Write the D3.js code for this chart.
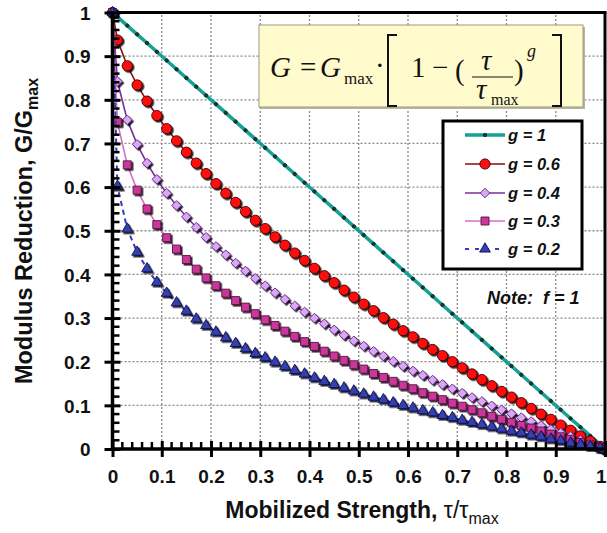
<!DOCTYPE html>
<html><head><meta charset="utf-8">
<script src="https://cdn.jsdelivr.net/npm/d3@7"></script>
<style>
html,body{margin:0;padding:0;background:#fff;}
svg{display:block;}
</style></head>
<body>
<svg id="chart" width="607" height="533"></svg>
<script>
// ---- data ----
const xValues = [0,0.01,0.03,0.05,0.07,0.09,0.11,0.13,0.15,0.17,0.19,0.21,0.23,0.25,0.27,0.29,0.31,0.33,0.35,0.37,0.39,0.41,0.43,0.45,0.47,0.49,0.51,0.53,0.55,0.57,0.59,0.61,0.63,0.65,0.67,0.69,0.71,0.73,0.75,0.77,0.79,0.81,0.83,0.85,0.87,0.89,0.91,0.93,0.95,0.97,0.99,1];
const g1  = [1,0.99,0.97,0.95,0.93,0.91,0.89,0.87,0.85,0.83,0.81,0.79,0.77,0.75,0.73,0.71,0.69,0.67,0.65,0.63,0.61,0.59,0.57,0.55,0.53,0.51,0.49,0.47,0.45,0.43,0.41,0.39,0.37,0.35,0.33,0.31,0.29,0.27,0.25,0.23,0.21,0.19,0.17,0.15,0.13,0.11,0.09,0.07,0.05,0.03,0.01,0];
const g06 = [1,0.937,0.878,0.834,0.797,0.764,0.734,0.706,0.680,0.655,0.631,0.608,0.586,0.565,0.544,0.524,0.505,0.486,0.467,0.449,0.432,0.414,0.397,0.381,0.364,0.348,0.332,0.317,0.301,0.286,0.271,0.257,0.242,0.228,0.214,0.200,0.186,0.172,0.159,0.145,0.132,0.119,0.106,0.093,0.080,0.068,0.055,0.043,0.030,0.018,0.006,0];
const g04 = [1,0.842,0.754,0.698,0.655,0.618,0.586,0.558,0.532,0.508,0.485,0.464,0.445,0.426,0.408,0.391,0.374,0.358,0.343,0.328,0.314,0.300,0.287,0.273,0.261,0.248,0.236,0.224,0.213,0.201,0.190,0.179,0.169,0.158,0.148,0.138,0.128,0.118,0.109,0.099,0.090,0.081,0.072,0.063,0.054,0.045,0.037,0.029,0.020,0.012,0.004,0];
const g03 = [1,0.749,0.651,0.593,0.550,0.514,0.484,0.458,0.434,0.412,0.392,0.374,0.357,0.340,0.325,0.310,0.296,0.283,0.270,0.258,0.246,0.235,0.224,0.213,0.203,0.193,0.183,0.173,0.164,0.155,0.146,0.138,0.129,0.121,0.113,0.105,0.098,0.090,0.083,0.075,0.068,0.061,0.054,0.048,0.041,0.034,0.028,0.022,0.015,0.009,0.003,0];
const g02 = [1,0.602,0.504,0.451,0.413,0.382,0.357,0.335,0.316,0.298,0.283,0.268,0.255,0.242,0.230,0.219,0.209,0.199,0.189,0.180,0.172,0.163,0.155,0.148,0.140,0.133,0.126,0.119,0.113,0.106,0.100,0.094,0.088,0.083,0.077,0.072,0.066,0.061,0.056,0.051,0.046,0.041,0.037,0.032,0.028,0.023,0.019,0.014,0.010,0.006,0.002,0];

const seriesNames = ["g = 1","g = 0.6","g = 0.4","g = 0.3","g = 0.2"];
const seriesValues = [g1, g06, g04, g03, g02];
const majorTicks = [0,0.1,0.2,0.3,0.4,0.5,0.6,0.7,0.8,0.9,1];
const tickLabels = ["0","0.1","0.2","0.3","0.4","0.5","0.6","0.7","0.8","0.9","1"];
const minorTicks = d3.range(0,51).map(i => i/50).filter(v => Math.abs(v*10 - Math.round(v*10)) > 1e-6);

// ---- styles ----
const lineColors   = ["#16A096","#8B0A0A","#7A2E9A","#D070C8","#3A3AC0"];
const lineWidths   = [3.5,1.6,1.6,1.6,2];
const lineDash     = [null,null,null,null,"5,4"];
const markerFill   = ["#1a3a30","#FF1010","#D8A8F0","#C8389A","#3440B0"];
const markerStroke = ["#0d2a22","#400000","#6A2890","#5A1040","#101050"];
const markerKind   = ["dot","circle","diamond","square","triangle"];

const svg = d3.select("#chart");
const x = d3.scaleLinear().domain([0,1]).range([112.5,605]);
const y = d3.scaleLinear().domain([0,1]).range([449,12.5]);
const FONT = "'Liberation Sans', Arial, Helvetica, sans-serif";

const defs = svg.append("defs");
const f = defs.append("filter").attr("id","shadow").attr("x","-50%").attr("y","-50%").attr("width","200%").attr("height","200%");
f.append("feDropShadow").attr("dx",1.6).attr("dy",1.6).attr("stdDeviation",0.5).attr("flood-color","#000").attr("flood-opacity",0.85);

// grid
const grid = svg.append("g");
grid.selectAll("line.v").data(majorTicks.slice(1,-1)).join("line")
  .attr("x1",d=>x(d)).attr("x2",d=>x(d)).attr("y1",y(0)).attr("y2",y(1))
  .attr("stroke","#8a8a8a").attr("stroke-width",1.3).attr("stroke-dasharray","2,2");
grid.selectAll("line.h").data(majorTicks.slice(1,-1)).join("line")
  .attr("y1",d=>y(d)).attr("y2",d=>y(d)).attr("x1",x(0)).attr("x2",x(1))
  .attr("stroke","#8a8a8a").attr("stroke-width",1.3).attr("stroke-dasharray","2,2");

// frame top/right
svg.append("line").attr("x1",x(0)).attr("x2",x(1)+1.5).attr("y1",y(1)).attr("y2",y(1)).attr("stroke","#000").attr("stroke-width",3);
svg.append("line").attr("x1",x(1)).attr("x2",x(1)).attr("y1",y(1)).attr("y2",y(0)).attr("stroke","#000").attr("stroke-width",3);

// formula box
const fb = {x:259, y:25, w:324, h:82};
const fg = svg.append("g");
fg.append("rect").attr("x",fb.x+2).attr("y",fb.y+2).attr("width",fb.w).attr("height",fb.h).attr("fill","#b8b8a0");
fg.append("rect").attr("x",fb.x).attr("y",fb.y).attr("width",fb.w).attr("height",fb.h).attr("fill","#FFFBCC").attr("stroke","#a09a80").attr("stroke-width",1);
const SERIF = "'Liberation Serif', 'Times New Roman', serif";
function ft(tx, ty, s, size, italic){
  return fg.append("text").attr("x",fb.x+tx).attr("y",fb.y+ty).attr("font-family",SERIF)
    .attr("font-size",size).attr("font-style",italic?"italic":"normal").attr("fill","#111").text(s);
}
ft(11,52,"G",29,true);
ft(41,52,"=",29,false);
ft(61,52,"G",29,true);
ft(85,59,"max",17,false);
ft(116,50,"·",29,false);
// brackets
fg.append("path").attr("d",`M${fb.x+138},${fb.y+10} h-9 v71 h9`).attr("fill","none").attr("stroke","#111").attr("stroke-width",2);
fg.append("path").attr("d",`M${fb.x+293},${fb.y+10} h9 v71 h-9`).attr("fill","none").attr("stroke","#111").attr("stroke-width",2);
ft(152,52,"1",29,false);
ft(173,52,"\u2212",29,false);
ft(196,55,"(",29,false);
ft(222,45,"\u03C4",29,true);
fg.append("line").attr("x1",fb.x+213).attr("x2",fb.x+254).attr("y1",fb.y+52).attr("y2",fb.y+52).attr("stroke","#111").attr("stroke-width",1.2);
ft(217,74,"\u03C4",29,true);
ft(232,80,"max",16,false);
ft(255,55,")",29,false);
ft(268,32,"g",18,true);

// lines
const lineGen = d3.line().x((d,i)=>x(xValues[i])).y(d=>y(d));
function symbolPath(kind){
  if(kind==="dot") return d3.symbol(d3.symbolCircle,9)();
  if(kind==="circle") return d3.symbol(d3.symbolCircle,82)();
  if(kind==="diamond") return d3.symbol(d3.symbolSquare,46)();
  if(kind==="square") return d3.symbol(d3.symbolSquare,64)();
  return d3.symbol(d3.symbolTriangle,50)();
}
const sg = svg.append("g");
seriesValues.forEach((vals,k)=>{
  const g = sg.append("g");
  g.append("path").datum(vals).attr("d",lineGen).attr("fill","none")
    .attr("stroke",lineColors[k]).attr("stroke-width",lineWidths[k])
    .attr("stroke-dasharray",lineDash[k]);
  const mg = g.append("g").attr("filter", k===0 ? null : "url(#shadow)");
  mg.selectAll("path").data(vals).join("path")
    .attr("transform",(d,i)=>`translate(${x(xValues[i])},${y(d)})`+(markerKind[k]==="diamond"?" rotate(45)":""))
    .attr("d",symbolPath(markerKind[k]))
    .attr("fill",markerFill[k]).attr("stroke",markerStroke[k]).attr("stroke-width",0.9);
});

// axes
const yAxis = d3.axisLeft(y).tickValues(majorTicks).tickFormat((d,i)=>tickLabels[i]).tickSize(8).tickPadding(14);
const ya = svg.append("g").attr("transform",`translate(${x(0)},0)`).call(yAxis);
ya.select(".domain").remove();
ya.selectAll(".tick line").attr("x1",8).attr("stroke","#000").attr("stroke-width",3);
ya.selectAll(".tick text").attr("font-family",FONT).attr("font-size",19).attr("font-weight","bold").attr("fill","#111").attr("dy","0.36em");
ya.selectAll("line.minor").data(minorTicks).join("line").attr("class","minor")
  .attr("x1",0).attr("x2",7).attr("y1",d=>y(d)).attr("y2",d=>y(d)).attr("stroke","#000").attr("stroke-width",2.5);

const xAxis = d3.axisBottom(x).tickValues(majorTicks).tickFormat((d,i)=>tickLabels[i]).tickSize(8).tickPadding(0);
const xa = svg.append("g").attr("transform",`translate(0,${y(0)})`).call(xAxis);
xa.select(".domain").remove();
xa.selectAll(".tick line").attr("y1",-8).attr("stroke","#000").attr("stroke-width",3);
xa.selectAll(".tick text").attr("font-family",FONT).attr("font-size",19).attr("font-weight","bold").attr("fill","#111").attr("y",34).attr("dy",0);
xa.selectAll(".tick text").filter(d=>d===1).attr("text-anchor","end").attr("x",1);
xa.selectAll("line.minor").data(minorTicks).join("line").attr("class","minor")
  .attr("y1",0).attr("y2",-7).attr("x1",d=>x(d)).attr("x2",d=>x(d)).attr("stroke","#000").attr("stroke-width",2.5);

// axis lines
svg.append("line").attr("x1",x(0)).attr("x2",x(0)).attr("y1",y(1)-1.5).attr("y2",y(0)+1.5).attr("stroke","#000").attr("stroke-width",3.5);
svg.append("line").attr("x1",x(0)-1.5).attr("x2",x(1)+1.5).attr("y1",y(0)).attr("y2",y(0)).attr("stroke","#000").attr("stroke-width",3.5);

// axis titles
const xt = svg.append("text").attr("x",362).attr("y",518).attr("text-anchor","middle")
  .attr("font-family",FONT).attr("font-size",23).attr("font-weight","bold").attr("fill","#111");
xt.append("tspan").text("Mobilized Strength, ");
xt.append("tspan").attr("font-weight","normal").text("\u03C4/\u03C4");
xt.append("tspan").attr("font-weight","normal").attr("font-size",16).attr("dy",6).text("max");

const yt = svg.append("text").attr("transform","translate(32,231) rotate(-90)").attr("text-anchor","middle")
  .attr("font-family",FONT).attr("font-size",23.5).attr("font-weight","bold").attr("fill","#111");
yt.append("tspan").text("Modulus Reduction, G/G");
yt.append("tspan").attr("font-size",16).attr("dy",6).text("max");

// legend
const lg = svg.append("g");
lg.append("rect").attr("x",443).attr("y",121).attr("width",139).attr("height",148).attr("fill","#fff").attr("stroke","#000").attr("stroke-width",3);
const rowY = [135,164,193,221,249];
seriesNames.forEach((name,k)=>{
  const yy = rowY[k];
  lg.append("line").attr("x1",465).attr("x2",505).attr("y1",yy).attr("y2",yy)
    .attr("stroke",lineColors[k]).attr("stroke-width",lineWidths[k]).attr("stroke-dasharray",k===4?"4,6":null);
  lg.append("path").attr("transform",`translate(485,${yy})`+(markerKind[k]==="diamond"?" rotate(45)":""))
    .attr("d",symbolPath(markerKind[k])).attr("fill",markerFill[k]).attr("stroke",markerStroke[k]).attr("stroke-width",0.9);
  lg.append("text").attr("x",508).attr("y",yy+6).attr("font-family",FONT).attr("font-size",16.5)
    .attr("font-weight","bold").attr("font-style","italic").attr("fill","#111").text(name);
});

svg.append("text").attr("x",487).attr("y",304).attr("font-family",FONT).attr("font-size",18)
  .attr("font-weight","bold").attr("font-style","italic").attr("fill","#111").attr("xml:space","preserve").text("Note:  f = 1");
</script>
</body></html>
